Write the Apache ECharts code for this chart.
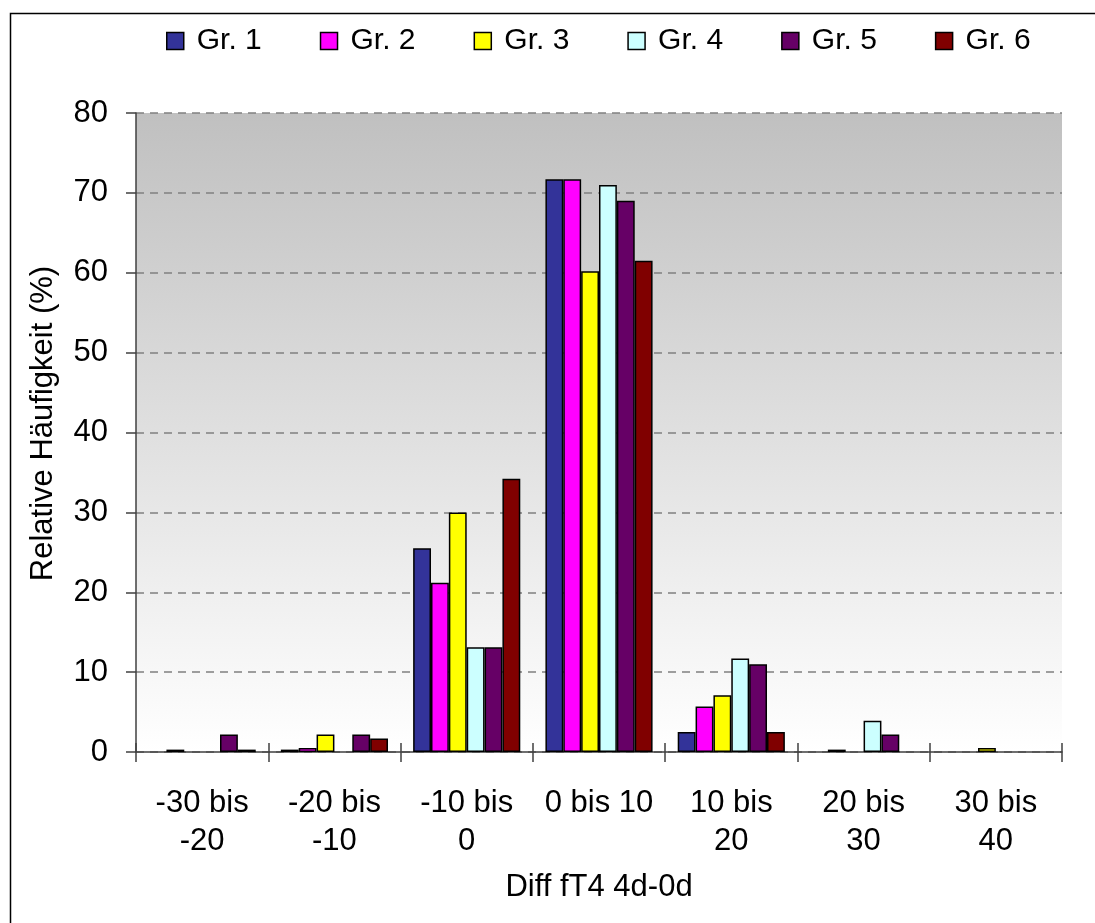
<!DOCTYPE html>
<html>
<head>
<meta charset="utf-8">
<script src="https://cdn.jsdelivr.net/npm/echarts@6/dist/echarts.min.js"></script>
<style>html,body{margin:0;padding:0;background:#fff}#c{width:1095px;height:923px}</style>
</head>
<body>
<div id="c"></div>
<script>
var categories = ['-30 bis\n-20', '-20 bis\n-10', '-10 bis\n0', '0 bis 10', '10 bis\n20', '20 bis\n30', '30 bis\n40'];
var seriesNames = ['Gr. 1', 'Gr. 2', 'Gr. 3', 'Gr. 4', 'Gr. 5', 'Gr. 6'];
var gr1 = [0, 0.3, 25.5, 71.7, 2.5, 0, 0];
var gr2 = [0.3, 0.5, 21.2, 71.7, 5.7, 0.3, 0];
var gr3 = [0, 2.2, 30.0, 60.2, 7.1, 0, 0.5];
var gr4 = [0, 0, 13.1, 71.0, 11.7, 3.9, 0];
var gr5 = [2.2, 2.2, 13.1, 69.0, 11.0, 2.2, 0];
var gr6 = [0.3, 1.7, 34.2, 61.5, 2.5, 0, 0];
var yTicks = [0, 10, 20, 30, 40, 50, 60, 70, 80];

var colors = ['#333399', '#FF00FF', '#FFFF00', '#CCFFFF', '#660066', '#800000'];
var allData = [gr1, gr2, gr3, gr4, gr5, gr6];
var FONT = 'Liberation Sans, Arial, sans-serif';

var chart = echarts.init(document.getElementById('c'), null, {renderer: 'canvas'});
var series = seriesNames.map(function (n, i) {
  return {
    name: n, type: 'bar',
    data: allData[i].map(function (v) { return v === 0 ? '-' : v; }),
    barGap: '0%', barCategoryGap: '19%',
    itemStyle: {color: colors[i], borderColor: '#000', borderWidth: 1.5},
    emphasis: {disabled: true}
  };
});

chart.setOption({
  animation: false,
  backgroundColor: '#fff',
  color: colors,
  graphic: [{
    type: 'rect', left: 8, top: 11, z: -10,
    shape: {x: 0, y: 0, width: 1200, height: 1000},
    style: {fill: 'none', stroke: '#000', lineWidth: 1.5}
  }],
  legend: {
    left: 161, top: 21,
    itemWidth: 17, itemHeight: 17, itemGap: 58,
    icon: 'rect',
    itemStyle: {borderColor: '#000', borderWidth: 1.5},
    textStyle: {fontFamily: FONT, fontSize: 30, color: '#000', padding: [0, 0, 0, 8]},
    data: seriesNames
  },
  grid: {
    left: 136, top: 113, right: 33, bottom: 171,
    show: true, borderWidth: 0,
    backgroundColor: new echarts.graphic.LinearGradient(0, 0, 0, 1, [
      {offset: 0, color: '#c0c0c0'}, {offset: 1, color: '#ffffff'}
    ])
  },
  xAxis: [{
    type: 'category', data: categories,
    axisLine: {lineStyle: {color: '#404040', width: 1.5}},
    axisTick: {show: true, length: 10, lineStyle: {color: '#404040', width: 1.5}},
    axisLabel: {fontFamily: FONT, fontSize: 31, color: '#000', margin: 32, lineHeight: 38, interval: 0},
    name: 'Diff fT4 4d-0d', nameLocation: 'middle', nameGap: 120,
    nameTextStyle: {fontFamily: FONT, fontSize: 31, color: '#000'}
  }, {
    type: 'category', data: categories, position: 'bottom',
    axisLine: {show: false},
    axisTick: {show: true, inside: true, length: 9, lineStyle: {color: '#404040', width: 1.5}},
    axisLabel: {show: false}
  }],
  yAxis: {
    type: 'value', min: 0, max: 80, interval: 10,
    axisLine: {show: true, lineStyle: {color: '#404040', width: 1.5}},
    axisTick: {show: true, length: 10, lineStyle: {color: '#404040', width: 1.5}},
    axisLabel: {fontFamily: FONT, fontSize: 31, color: '#000', margin: 28,
      formatter: function (v) { return yTicks.indexOf(v) >= 0 ? String(v) : ''; }},
    splitLine: {show: true, lineStyle: {color: '#808080', width: 1.5, type: [8, 6]}},
    name: 'Relative Häufigkeit (%)', nameLocation: 'middle', nameGap: 77,
    nameTextStyle: {fontFamily: FONT, fontSize: 31, color: '#000', padding: [0, 0, 0, 18]}
  },
  series: series
});
</script>
</body>
</html>
